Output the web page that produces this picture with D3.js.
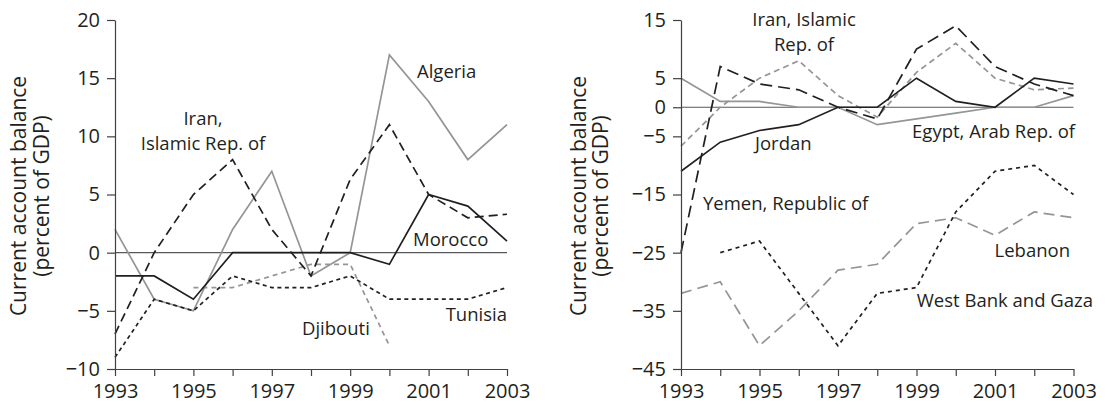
<!DOCTYPE html>
<html>
<head>
<meta charset="utf-8">
<script src="https://cdn.jsdelivr.net/npm/d3@7"></script>
<style>
  html, body { margin: 0; padding: 0; background: #fff; }
  svg { display: block; }
  text { font-family: "Open Sans", "Noto Sans", sans-serif; fill: #231f20; }
</style>
</head>
<body>
<svg id="chart" width="1110" height="409"></svg>
<script>
// ---------- data ----------
const years = [1993, 1994, 1995, 1996, 1997, 1998, 1999, 2000, 2001, 2002, 2003];
const xTickLabels = [1993, 1995, 1997, 1999, 2001, 2003];

// Left panel
const leftYTicks = [20, 15, 10, 5, 0, -5, -10];
const algeria  = [2, -4, -5, 2, 7, -2, 0, 17, 13, 8, 11];
const iranLeft = [-7, 0, 5, 8, 2, -2, 6.3, 11, 5, 3, 3.3];
const morocco  = [-2, -2, -4, 0, 0, 0, 0, -1, 5, 4, 1];
const tunisia  = [-9, -4, -5, -2, -3, -3, -2, -4, -4, -4, -3];
const djibouti = [null, null, -3, -3, -2, -1, -1, -8, null, null, null];

// Right panel
const rightYTicks = [15, 5, 0, -5, -15, -25, -35, -45];
const iranRight = [-6.7, 0, 5, 8, 2, -1.7, 6, 11, 5, 3, 3.3];
const yemen     = [-25, 7, 4, 3, 0, -2, 10, 14, 7, 4, 2];
const jordan    = [-11, -6, -4, -3, 0, 0, 5, 1, 0, 5, 4];
const egypt     = [5, 1, 1, 0, 0, -3, -2, -1, 0, 0, 2];
const westBank  = [null, -25, -23, -32, -41, -32, -31, -18, -11, -10, -15];
const lebanon   = [-32, -30, -41, -35, -28, -27, -20, -19, -22, -18, -19];

const yTitle1 = "Current account balance";
const yTitle2 = "(percent of GDP)";

// ---------- styles ----------
const BLACK = "#231f20";
const GRAY = "#939598";

const svg = d3.select("#chart");

function panel(cfg) {
  const x = d3.scaleLinear().domain([1993, 2003]).range([cfg.x0, cfg.x1]);
  const y = d3.scaleLinear().domain(cfg.yDomain).range([369, 20]);
  const g = svg.append("g");

  // zero line
  g.append("line")
    .attr("x1", x(1993)).attr("x2", x(2003))
    .attr("y1", y(0)).attr("y2", y(0))
    .attr("stroke", "#58595b").attr("stroke-width", 1.2);

  // series
  const line = d3.line()
    .defined(d => d.v !== null)
    .x(d => x(d.year)).y(d => y(d.v));
  cfg.series.forEach(s => {
    g.append("path")
      .datum(years.map((yr, i) => ({ year: yr, v: s.values[i] })))
      .attr("fill", "none")
      .attr("stroke", s.color)
      .attr("stroke-width", 1.7)
      .attr("stroke-dasharray", s.dash || null)
      .attr("stroke-linejoin", "miter")
      .attr("d", line);
  });

  // axes
  const yAxis = d3.axisLeft(y).tickValues(cfg.yTicks).tickSize(8).tickSizeOuter(0).tickPadding(7)
    .tickFormat(d3.format("d"));
  const ya = g.append("g").attr("transform", `translate(${x(1993)},0)`).call(yAxis);
  const xAxis = d3.axisBottom(x).tickValues(years).tickSize(7).tickSizeOuter(0).tickPadding(8)
    .tickFormat(d => xTickLabels.includes(d) ? String(d) : "");
  const xa = g.append("g").attr("transform", `translate(0,${y(cfg.yDomain[0])})`).call(xAxis);
  [ya, xa].forEach(a => {
    a.selectAll("path.domain").attr("stroke", "#414042").attr("stroke-width", 1.2);
    a.selectAll(".tick line").attr("stroke", "#414042").attr("stroke-width", 1.2);
    a.selectAll("text").attr("font-size", 20).attr("font-family", "Open Sans").attr("fill", BLACK);
  });

  // y title
  const cy = 196;
  g.append("text")
    .attr("transform", `translate(${cfg.t1},${cy}) rotate(-90)`)
    .attr("text-anchor", "middle").attr("font-size", 21).text(yTitle1);
  g.append("text")
    .attr("transform", `translate(${cfg.t2},${cy}) rotate(-90)`)
    .attr("text-anchor", "middle").attr("font-size", 21).text(yTitle2);

  // labels (one text element per line)
  cfg.labels.forEach(l => {
    const n = l.lines.length;
    l.lines.forEach((ln, i) => {
      const yy = n > 1 ? l.y - 1.5 + i * 25.5 : l.y;
      g.append("text")
        .attr("x", l.x).attr("y", yy)
        .attr("font-size", 18.5)
        .attr("text-anchor", l.anchor || "start")
        .text(ln);
    });
  });
}

panel({
  x0: 115, x1: 507, yDomain: [-10, 20], yTicks: leftYTicks, t1: 26, t2: 49,
  series: [
    { values: djibouti, color: GRAY, dash: "5,4" },
    { values: algeria, color: GRAY },
    { values: tunisia, color: BLACK, dash: "4,3.5" },
    { values: iranLeft, color: BLACK, dash: "9,5" },
    { values: morocco, color: BLACK }
  ],
  labels: [
    { lines: ["Algeria"], x: 417, y: 78 },
    { lines: ["Iran,", "Islamic Rep. of"], x: 203, y: 126, anchor: "middle" },
    { lines: ["Morocco"], x: 413, y: 246 },
    { lines: ["Tunisia"], x: 507, y: 321, anchor: "end" },
    { lines: ["Djibouti"], x: 302, y: 335 }
  ]
});

panel({
  x0: 681, x1: 1073.5, yDomain: [-45, 15], yTicks: rightYTicks, t1: 586, t2: 608,
  series: [
    { values: lebanon, color: GRAY, dash: "11,6" },
    { values: westBank, color: BLACK, dash: "4,4" },
    { values: egypt, color: GRAY },
    { values: iranRight, color: GRAY, dash: "6,4" },
    { values: yemen, color: BLACK, dash: "12,6" },
    { values: jordan, color: BLACK }
  ],
  labels: [
    { lines: ["Iran, Islamic", "Rep. of"], x: 804, y: 27, anchor: "middle" },
    { lines: ["Jordan"], x: 755, y: 150 },
    { lines: ["Yemen, Republic of"], x: 703, y: 210 },
    { lines: ["Egypt, Arab Rep. of"], x: 1075, y: 138, anchor: "end" },
    { lines: ["Lebanon"], x: 1070, y: 257, anchor: "end" },
    { lines: ["West Bank and Gaza"], x: 1093, y: 307, anchor: "end" }
  ]
});
</script>
</body>
</html>
